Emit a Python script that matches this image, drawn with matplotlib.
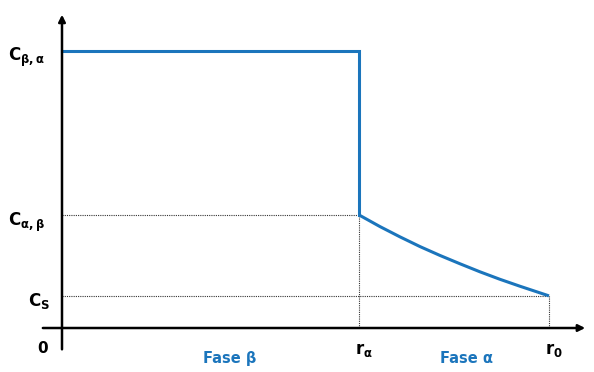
import numpy as np
import matplotlib
matplotlib.use("Agg")
import matplotlib.pyplot as plt

plt.rcParams['mathtext.fontset'] = 'dejavusans'

# Values (normalised: r0 = 1, C_beta,alpha = 1)
r_alpha = 0.61
r_0 = 1.0
C_ba = 1.0
C_ab = 0.408
C_s = 0.116

# curve in phase alpha
curve_r = [0.610, 0.653, 0.694, 0.735, 0.776, 0.817, 0.858, 0.899, 0.940, 1.0]
curve_c = [0.408, 0.366, 0.329, 0.294, 0.262, 0.232, 0.203, 0.176, 0.151, 0.116]

blue = '#1b75bc'

fig = plt.figure(figsize=(5.94, 3.72), dpi=100)
ax = fig.add_axes([0, 0, 1, 1])
ax.set_xlim(-0.1273, 1.0924)
ax.set_ylim(-0.1588, 1.184)
ax.axis('off')

# axes with arrows
ax.annotate('', xy=(1.08, 0), xytext=(-0.045, 0),
            arrowprops=dict(arrowstyle='-|>', lw=1.8, color='black', mutation_scale=10))
ax.annotate('', xy=(0, 1.141), xytext=(0, -0.087),
            arrowprops=dict(arrowstyle='-|>', lw=1.8, color='black', mutation_scale=10))

# dotted guides
dot = dict(color='#333333', lw=0.8, ls=(0, (1, 1)))
ax.plot([0, r_alpha], [C_ab, C_ab], **dot)
ax.plot([0, r_0], [C_s, C_s], **dot)
ax.plot([r_alpha, r_alpha], [0, C_ab], **dot)
ax.plot([r_0, r_0], [0, C_s], **dot)

# profile
ax.plot([0, r_alpha, r_alpha], [C_ba, C_ba, C_ab], color=blue, lw=2.2, solid_joinstyle='miter')
ax.plot(curve_r, curve_c, color=blue, lw=2.2, solid_capstyle='butt', solid_joinstyle='round')

# labels
ax.text(-0.11, C_ba - 0.025, r'$\mathbf{C}_{\mathbf{β,α}}$', fontsize=12, ha='left', va='center')
ax.text(-0.11, C_ab - 0.025, r'$\mathbf{C}_{\mathbf{α,β}}$', fontsize=12, ha='left', va='center')
ax.text(-0.07, C_s - 0.02, r'$\mathbf{C}_{\mathbf{S}}$', fontsize=12, ha='left', va='center')
ax.text(-0.04, -0.075, '0', fontsize=11, fontweight='bold', ha='center', va='center')
ax.text(r_alpha + 0.01, -0.08, r'$\mathbf{r}_{\mathbf{α}}$', fontsize=12, ha='center', va='center')
ax.text(r_0 + 0.01, -0.08, r'$\mathbf{r}_{\mathbf{0}}$', fontsize=12, ha='center', va='center')
ax.text(0.345, -0.11, 'Fase β', fontsize=10.5, fontweight='bold', color=blue, ha='center', va='center')
ax.text(0.83, -0.11, 'Fase α', fontsize=10.5, fontweight='bold', color=blue, ha='center', va='center')

fig.savefig('out.png', dpi=100)
